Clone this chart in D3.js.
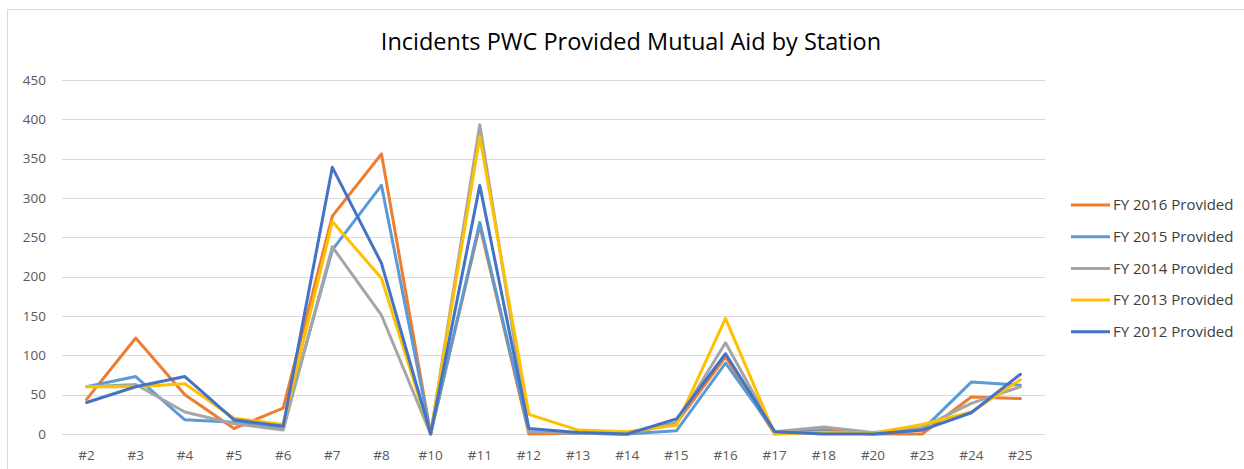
<!DOCTYPE html>
<html><head><meta charset="utf-8">
<script src="https://cdn.jsdelivr.net/npm/d3@7"></script>
<style>
html,body{margin:0;padding:0;background:#fff;}
svg{display:block;font-family:"Open Sans","Noto Sans",sans-serif;}
</style></head>
<body><svg id="c" width="1244" height="469"></svg>
<script>
const stations = ["#2","#3","#4","#5","#6","#7","#8","#10","#11","#12","#13","#14","#15","#16","#17","#18","#20","#23","#24","#25"];
const fy2016 = [44,122,50,7,33,277,356,0,265,0,1,0,14,98,0,6,0,0,47,45];
const fy2015 = [60,73,18,15,8,234,316,0,269,3,1,0,4,90,3,3,0,5,66,62];
const fy2014 = [60,63,28,13,5,238,151,0,393,3,1,0,14,116,3,9,2,8,39,60];
const fy2013 = [60,60,64,20,12,270,198,0,378,25,5,3,11,147,0,2,1,12,28,69];
const fy2012 = [40,60,73,18,10,339,217,0,316,7,2,0,19,102,3,0,0,5,27,76];
const seriesNames = ["FY 2016 Provided","FY 2015 Provided","FY 2014 Provided","FY 2013 Provided","FY 2012 Provided"];
const seriesColors = ["#ED7D31","#5B9BD5","#A5A5A5","#FFC000","#4472C4"];
const yTicks = [0,50,100,150,200,250,300,350,400,450];
const title = "Incidents PWC Provided Mutual Aid by Station";

const series = [fy2016,fy2015,fy2014,fy2013,fy2012].map((v,i)=>({name:seriesNames[i],color:seriesColors[i],values:v}));

const svg = d3.select("#c");
// chart border
svg.append("rect").attr("x",7.5).attr("y",9.5).attr("width",1260).attr("height",480)
  .attr("fill","#fff").attr("stroke","#D9D9D9").attr("stroke-width",1);

const x = d3.scaleBand().domain(stations).range([62,1045]);
const y = d3.scaleLinear().domain([0,450]).range([434,80]);

// gridlines
svg.append("g").selectAll("line").data(yTicks).join("line")
  .attr("x1",62).attr("x2",1045)
  .attr("y1",d=>Math.round(y(d))+0.5).attr("y2",d=>Math.round(y(d))+0.5)
  .attr("stroke","#D9D9D9").attr("stroke-width",1);

// y axis
const yAxis = svg.append("g").attr("transform","translate(52,0)")
  .call(d3.axisLeft(y).tickValues(yTicks).tickSize(0).tickPadding(6));
yAxis.select(".domain").remove();
yAxis.selectAll("text").attr("font-size",13.5).attr("fill","#595959")
  .attr("font-family","'Open Sans','Noto Sans',sans-serif");

// x axis
const xAxis = svg.append("g").attr("transform","translate(0,434)")
  .call(d3.axisBottom(x).tickSize(0).tickPadding(16));
xAxis.select(".domain").remove();
xAxis.selectAll("text").attr("font-size",13.5).attr("fill","#595959")
  .attr("font-family","'Open Sans','Noto Sans',sans-serif");

// lines
const line = d3.line().x((d,i)=>x(stations[i])+x.bandwidth()/2).y(d=>y(d));
svg.append("g").selectAll("path").data(series).join("path")
  .attr("d",d=>line(d.values)).attr("fill","none")
  .attr("stroke",d=>d.color).attr("stroke-width",3)
  .attr("stroke-linejoin","round").attr("stroke-linecap","round");

// title
svg.append("text").attr("x",631).attr("y",50).attr("text-anchor","middle")
  .attr("font-size",23.5).attr("fill","#000").text(title);

// legend
const lg = svg.append("g").selectAll("g").data(series).join("g")
  .attr("transform",(d,i)=>`translate(1071,${205+i*31.7})`);
lg.append("line").attr("x1",0).attr("x2",39).attr("y1",0).attr("y2",0)
  .attr("stroke",d=>d.color).attr("stroke-width",3);
lg.append("text").attr("x",42).attr("y",0).attr("dy","0.35em")
  .attr("font-size",15).attr("fill","#404040").text(d=>d.name);
</script></body></html>
